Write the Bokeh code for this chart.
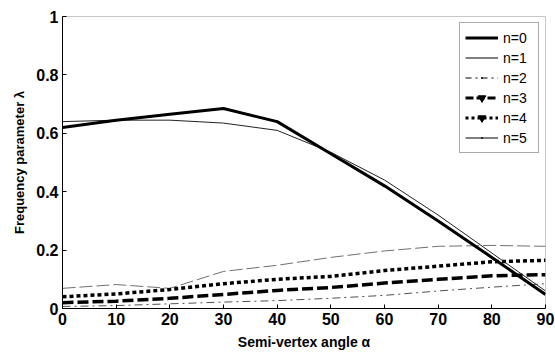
from bokeh.plotting import figure
from bokeh.models import Legend, LegendItem, FixedTicker, Range1d
from bokeh.embed import file_html
from bokeh.resources import INLINE

angles = [0, 10, 20, 30, 40, 50, 60, 70, 80, 90]
n0 = [0.62, 0.645, 0.665, 0.685, 0.64, 0.53, 0.42, 0.30, 0.175, 0.048]
n1 = [0.64, 0.645, 0.645, 0.635, 0.61, 0.535, 0.44, 0.32, 0.19, 0.06]
n2 = [0.007, 0.01, 0.016, 0.022, 0.027, 0.035, 0.045, 0.06, 0.073, 0.085]
n3 = [0.02, 0.025, 0.035, 0.048, 0.062, 0.072, 0.087, 0.10, 0.112, 0.116]
n4 = [0.04, 0.05, 0.065, 0.085, 0.10, 0.11, 0.13, 0.145, 0.16, 0.165]
n5 = [0.069, 0.082, 0.069, 0.127, 0.148, 0.175, 0.197, 0.213, 0.216, 0.213]
labels = ["n=0", "n=1", "n=2", "n=3", "n=4", "n=5"]
x_ticks = [0, 10, 20, 30, 40, 50, 60, 70, 80, 90]
y_ticks = [0, 0.2, 0.4, 0.6, 0.8, 1.0]
y_tick_labels = ["0", "0.2", "0.4", "0.6", "0.8", "1"]

FONT = "Liberation Sans"
NAN = float("nan")

p = figure(width=555, height=353, output_backend="svg", toolbar_location=None,
           x_range=Range1d(0, 90), y_range=Range1d(0, 1),
           min_border_left=62, min_border_right=10, min_border_top=16, min_border_bottom=45)
p.xgrid.visible = False
p.ygrid.visible = False
p.outline_line_color = "#c8c8c8"
p.background_fill_color = "white"

for ax in (p.xaxis[0], p.yaxis[0]):
    ax.major_tick_in = 4
    ax.major_tick_out = 0
    ax.minor_tick_in = 0
    ax.minor_tick_out = 0
    ax.axis_line_color = "black"
    ax.major_tick_line_color = "black"
    ax.major_label_text_font = FONT
    ax.major_label_text_font_style = "bold"
    ax.major_label_text_font_size = "16px"
    ax.major_label_text_color = "black"
    ax.axis_label_text_font = FONT
    ax.axis_label_text_font_style = "bold"
    ax.axis_label_text_color = "black"

p.xaxis.axis_label_text_font_size = "14px"
p.yaxis.axis_label_text_font_size = "13px"
p.xaxis.ticker = FixedTicker(ticks=x_ticks)
p.yaxis.ticker = FixedTicker(ticks=y_ticks)
p.yaxis.major_label_overrides = {t: l for t, l in zip(y_ticks, y_tick_labels)}
p.xaxis.axis_label = "Semi-vertex angle α"
p.yaxis.axis_label = "Frequency parameter λ"
p.xaxis.major_label_standoff = 4
p.xaxis.axis_label_standoff = 6
p.yaxis.major_label_standoff = 4
p.yaxis.axis_label_standoff = 6

# data lines
p.line(angles, n5, line_color="#707070", line_width=1, line_dash="13 4")
p.line(angles, n2, line_color="#505050", line_width=1, line_dash="8 4 2 4")
p.line(angles, n4, line_color="black", line_width=3.5, line_dash="4 3")
p.line(angles, n3, line_color="black", line_width=3.5, line_dash="11 4")
p.line(angles, n1, line_color="#222222", line_width=1)
p.line(angles, n0, line_color="black", line_width=3)

# legend-only glyphs (one NaN row, so nothing is drawn in the plot area)
e = dict(x=[NAN], y=[NAN])
l0 = p.line(line_color="black", line_width=3, **e)
l1 = p.line(line_color="black", line_width=1, **e)
l2 = p.line(line_color="black", line_width=1, line_dash="6 4 2 4", **e)
m2 = p.scatter(marker="dot", size=10, color="black", **e)
l3 = p.line(line_color="black", line_width=3, line_dash="8 3", **e)
m3 = p.scatter(marker="inverted_triangle", size=6, color="black", **e)
l4 = p.line(line_color="black", line_width=3, line_dash="3 3", **e)
m4 = p.scatter(marker="inverted_triangle", size=6, color="black", **e)
l5 = p.line(line_color="black", line_width=1, **e)
m5 = p.scatter(marker="dot", size=10, color="black", **e)

items = [
    LegendItem(label=labels[0], renderers=[l0]),
    LegendItem(label=labels[1], renderers=[l1]),
    LegendItem(label=labels[2], renderers=[l2, m2]),
    LegendItem(label=labels[3], renderers=[l3, m3]),
    LegendItem(label=labels[4], renderers=[l4, m4]),
    LegendItem(label=labels[5], renderers=[l5, m5]),
]
legend = Legend(items=items, location="top_right")
legend.border_line_color = "#555555"
legend.border_line_width = 1
legend.background_fill_color = "white"
legend.background_fill_alpha = 1
legend.label_text_font = FONT
legend.label_text_font_size = "14px"
legend.label_text_color = "black"
legend.glyph_width = 33
legend.glyph_height = 19
legend.label_height = 19
legend.label_width = 30
legend.spacing = 1
legend.padding = 5
legend.margin = 6
legend.label_standoff = 5
p.add_layout(legend)

open("out.html", "w").write(file_html(p, INLINE))
